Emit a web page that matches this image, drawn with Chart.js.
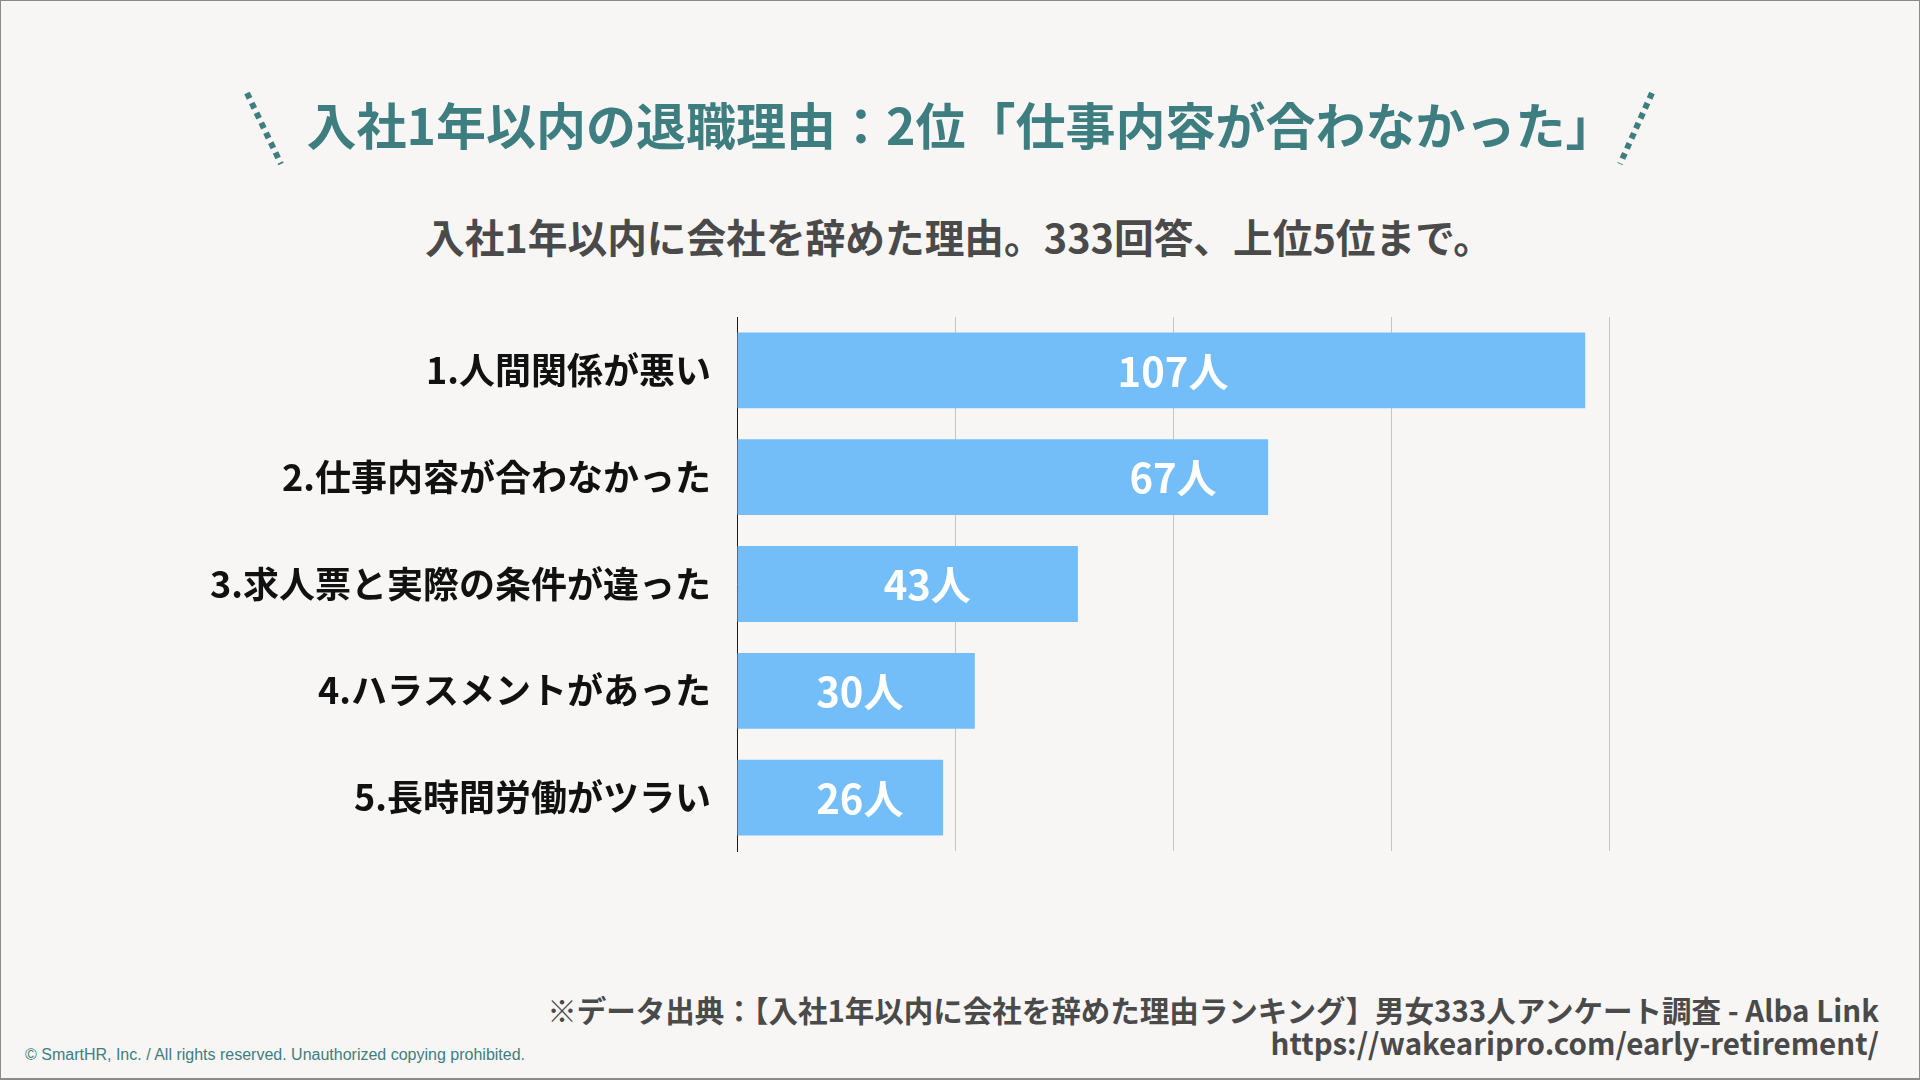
<!DOCTYPE html>
<html lang="ja">
<head>
<meta charset="utf-8">
<title>入社1年以内の退職理由</title>
<script src="https://cdn.jsdelivr.net/npm/chart.js@4/dist/chart.umd.min.js"></script>
<style>
    html, body {
        margin: 0;
        padding: 0;
        background: #f7f6f4;
    }
    .page {
        position: relative;
        width: 1920px;
        height: 1080px;
        box-sizing: border-box;
        border: 1px solid #8a8a8a;
        border-bottom-width: 2px;
        overflow: hidden;
        font-family: "Noto Sans CJK JP", "Noto Sans", sans-serif;
    }
    .title {
        position: absolute;
        left: 0;
        top: 91px;
        width: 1920px;
        text-align: center;
        font-size: 50px;
        line-height: 62px;
        font-weight: 700;
        color: #3e7e80;
    }
    .subtitle {
        position: absolute;
        left: 0;
        top: 210px;
        width: 1916px;
        text-align: center;
        font-size: 39.7px;
        line-height: 50px;
        font-weight: 700;
        color: #4a4a4a;
    }
    .deco {
        position: absolute;
        left: 0;
        top: 0;
    }
    .chart-wrap {
        position: absolute;
        left: 0;
        top: 290px;
        width: 1920px;
        height: 580px;
    }
    .source {
        position: absolute;
        right: 40px;
        top: 992px;
        text-align: right;
        font-size: 29.5px;
        line-height: 33px;
        font-weight: 700;
        color: #4a4a4a;
    }
    .copyright {
        position: absolute;
        left: 24px;
        top: 1045px;
        font-family: "Liberation Sans", Arial, sans-serif;
        font-size: 16px;
        line-height: 18px;
        color: #3e7e80;
    }
</style>
</head>
<body>
<div class="page">
    <svg class="deco" width="1920" height="200">
        <line x1="246" y1="92" x2="280" y2="163" stroke="#3e7e80" stroke-width="6" stroke-dasharray="6 5"/>
        <line x1="1651" y1="92" x2="1619" y2="163" stroke="#3e7e80" stroke-width="6" stroke-dasharray="6 5"/>
    </svg>
    <div class="title">入社1年以内の退職理由：2位「仕事内容が合わなかった」</div>
    <div class="subtitle">入社1年以内に会社を辞めた理由。333回答、上位5位まで。</div>
    <div class="chart-wrap">
        <canvas id="reasonChart" width="1920" height="580"></canvas>
    </div>
    <div class="source">※データ出典：【入社1年以内に会社を辞めた理由ランキング】男女333人アンケート調査 - Alba Link<br>https://wakearipro.com/early-retirement/</div>
    <div class="copyright">© SmartHR, Inc. / All rights reserved. Unauthorized copying prohibited.</div>
</div>

<script>
// --- Data ---
const reasons = [
    '1.人間関係が悪い',
    '2.仕事内容が合わなかった',
    '3.求人票と実際の条件が違った',
    '4.ハラスメントがあった',
    '5.長時間労働がツラい'
];
const counts = [107, 67, 43, 30, 26];
const unitLabel = '人';

// axis: 0 - 110, gridline every 27.5
const axisMax = 110;
const gridStep = 27.5;

document.addEventListener('DOMContentLoaded', function() {

    // where the value labels sit (in axis units, not always mid-bar in the original)
    const labelAt = [55, 55, 24, 15.5, 15.5];

    const valueLabels = {
        id: 'valueLabels',
        afterDatasetsDraw(chart) {
            const ctx = chart.ctx;
            const xScale = chart.scales.x;
            const meta = chart.getDatasetMeta(0);
            ctx.save();
            ctx.fillStyle = '#ffffff';
            ctx.font = "700 40px 'Noto Sans CJK JP', sans-serif";
            ctx.textAlign = 'center';
            ctx.textBaseline = 'middle';
            meta.data.forEach((bar, i) => {
                const x = xScale.getPixelForValue(labelAt[i]);
                ctx.fillText(counts[i] + unitLabel, x, bar.y + 1);
            });
            ctx.restore();
        }
    };

    const ctx = document.getElementById('reasonChart');
    new Chart(ctx.getContext('2d'), {
        type: 'bar',
        data: {
            labels: reasons,
            datasets: [{
                data: counts,
                backgroundColor: '#73bef8',
                borderWidth: 0,
                barPercentage: 0.71,
                categoryPercentage: 1
            }]
        },
        options: {
            indexAxis: 'y',
            responsive: false,
            animation: false,
            layout: {
                padding: { top: 26, right: 312, bottom: 20, left: 0 }
            },
            plugins: {
                legend: { display: false },
                tooltip: { enabled: false }
            },
            scales: {
                x: {
                    min: 0,
                    max: axisMax,
                    ticks: { display: false, stepSize: gridStep },
                    grid: {
                        drawTicks: false,
                        lineWidth: 1,
                        color: (c) => c.tick && c.tick.value === 0 ? 'rgba(0,0,0,0)' : '#c4c4c4'
                    },
                    border: { display: false },
                    afterFit: (scale) => {
                        scale.height = 0;
                        scale.paddingLeft = 0;
                        scale.paddingRight = 0;
                    }
                },
                y: {
                    grid: { display: false, drawTicks: false },
                    border: { display: true, color: '#1a1a1a', width: 1 },
                    ticks: {
                        padding: 26,
                        color: '#111111',
                        font: {
                            family: "'Noto Sans CJK JP', sans-serif",
                            size: 36,
                            weight: '700'
                        }
                    },
                    afterFit: (scale) => {
                        scale.width = 736;
                        scale.paddingTop = 0;
                        scale.paddingBottom = 0;
                    }
                }
            }
        },
        plugins: [valueLabels]
    });
});
</script>
</body>
</html>
